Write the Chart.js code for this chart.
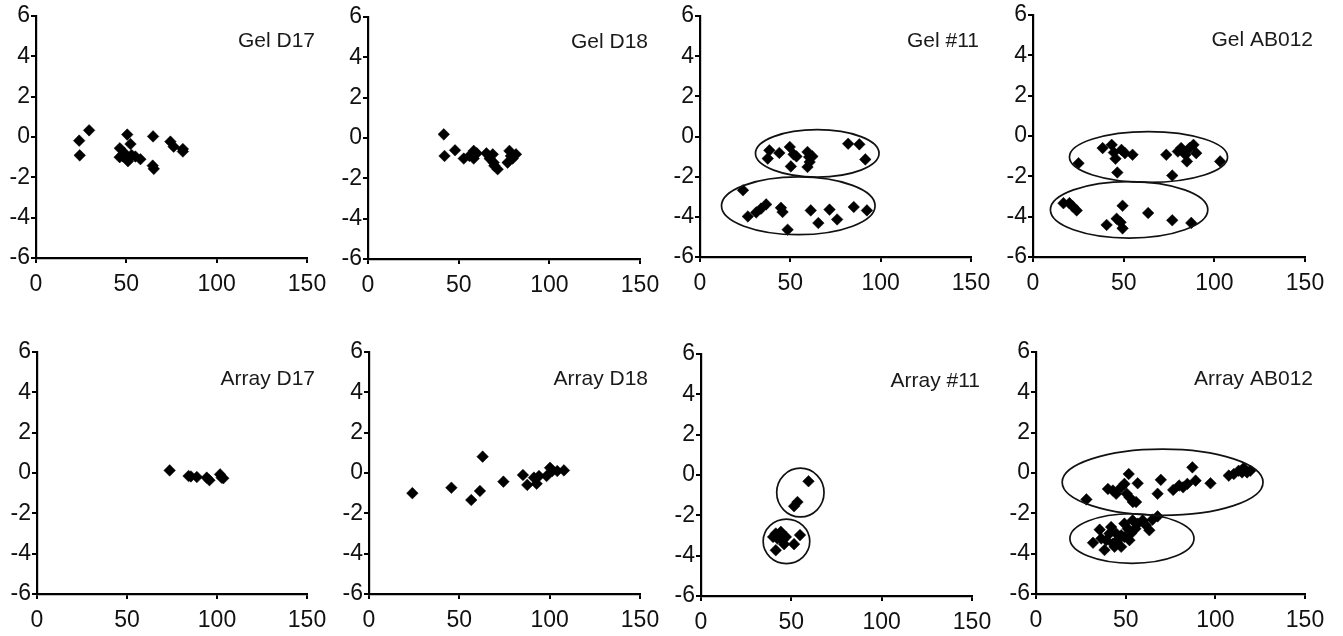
<!DOCTYPE html>
<html>
<head>
<meta charset="utf-8">
<script src="https://cdn.jsdelivr.net/npm/chart.js@4.4.1/dist/chart.umd.min.js"></script>
<style>
  html, body { margin:0; padding:0; background:#fff; width:1343px; height:636px; overflow:hidden; position:relative; }
  .panel { position:absolute; }
  .panel canvas { display:block; }
</style>
</head>
<body>
<script>
// ---------- data ----------
const xTicks = [0, 50, 100, 150];
const yTicks = [-6, -4, -2, 0, 2, 4, 6];

const titles = ["Gel D17", "Gel D18", "Gel #11", "Gel AB012",
                "Array D17", "Array D18", "Array #11", "Array AB012"];

const gelD17 = [[23.9,-0.18],[24.2,-0.91],[29.4,0.33],[50.5,0.12],[46.4,-0.56],[46.3,-1.0],
  [49,-0.8],[50.9,-1.2],[52.3,-0.35],[52.9,-0.89],[55,-0.97],[57.8,-1.1],[48,-0.95],
  [64.8,0.03],[64.6,-1.42],[65.2,-1.58],[74.4,-0.23],[76.2,-0.48],[81.3,-0.6],[81.3,-0.72]];

const gelD18 = [[41.8,0.18],[42.2,-0.89],[48,-0.61],[52.8,-1.02],[55.9,-0.89],[58.3,-0.64],
  [58.3,-1.02],[60,-0.76],[65.3,-0.76],[67.1,-1.02],[68.8,-0.81],[69.3,-1.22],[71.5,-1.55],
  [69.7,-1.38],[77,-1.22],[78,-0.64],[78.8,-0.89],[81.6,-0.81],[79.8,-1.02]];

const gel11 = [[37.5,-1.1],[38.4,-0.69],[43.9,-0.82],[49.7,-0.52],[50.3,-1.49],[51.8,-0.89],
  [53.4,-0.99],[59.5,-0.77],[60.4,-1.02],[59.5,-1.52],[62.2,-0.99],[60.7,-1.27],[82,-0.36],
  [88.2,-0.39],[91.5,-1.14],
  [23.8,-2.68],[26.5,-3.98],[31.1,-3.78],[33.8,-3.59],[36.6,-3.38],[44.8,-3.55],[45.7,-3.76],
  [48.5,-4.64],[61.3,-3.68],[65.5,-4.31],[71.7,-3.64],[75.9,-4.13],[85.1,-3.51],[92.4,-3.68]];

const gelAB012 = [[25.1,-1.35],[38.4,-0.6],[43.4,-0.44],[44.6,-0.82],[45.5,-1.13],[48.8,-0.69],
  [50.7,-0.85],[54.9,-0.93],[46.5,-1.81],[73.5,-0.93],[76.8,-1.96],[79.9,-0.77],[81.7,-0.6],
  [84.1,-0.93],[84.9,-1.26],[86.3,-0.6],[88.5,-0.44],[90,-0.85],[103.2,-1.26],
  [16.8,-3.33],[20.1,-3.33],[21.9,-3.49],[24.1,-3.69],[40.6,-4.41],[46.1,-4.1],[48.3,-4.28],
  [49.4,-4.58],[49.4,-3.46],[63.5,-3.82],[76.8,-4.18],[87.3,-4.31]];

const arrD17 = [[73.7,0.13],[84.2,-0.15],[85.5,-0.17],[88.8,-0.2],[94.3,-0.23],[95.8,-0.36],
  [101.7,-0.07],[102.6,-0.23],[103.5,-0.26]];

const arrD18 = [[24,-1.0],[45.6,-0.73],[56.6,-1.34],[61.4,-0.89],[62.9,0.81],[74.4,-0.43],
  [85.2,-0.1],[87.6,-0.59],[91.3,-0.23],[92.8,-0.53],[94.1,-0.15],[98.3,-0.15],[100.2,0.26],
  [101.5,0.1],[104.2,0.1],[107.9,0.13]];

const arr11 = [[59.5,-0.31],[53.4,-1.34],[51.5,-1.55],[41.4,-2.9],[44.2,-2.82],[42.3,-3.15],
  [45.1,-3.23],[46,-3.43],[41.4,-3.73],[51.5,-3.43],[54.8,-2.98],[47,-3.07],[39.9,-3.07]];

const arrAB012 = [[28.1,-1.31],[40.1,-0.79],[42.9,-0.87],[44.7,-1.03],[47.5,-0.71],[49.3,-0.54],
  [51.7,-0.05],[52.1,-1.2],[54,-1.44],[55.8,-1.44],[56.7,-0.51],[50.6,-1.03],[69.6,-0.34],
  [67.8,-1.03],[76.5,-0.84],[79.8,-0.62],[82,-0.71],[84.4,-0.54],[87.2,0.28],[89,-0.38],
  [97.3,-0.51],[107.5,-0.13],[110.3,-0.05],[113,0.11],[114.9,0.03],[117.7,0.03],[119.5,0.11],
  [115.8,0.25],
  [31.8,-3.46],[35.5,-2.81],[36.4,-3.25],[38.2,-3.82],[39.2,-3.33],[41,-3.0],[42.9,-3.5],
  [44.7,-3.0],[45.6,-3.33],[47.5,-3.66],[49.3,-2.51],[49.3,-3.17],[51.2,-2.76],[52.1,-3.33],
  [53,-3.0],[53.9,-2.35],[55.4,-2.76],[56.7,-2.51],[59.5,-2.35],[61.3,-2.59],[63.2,-2.84],
  [65,-2.31],[67.8,-2.15],[47.5,-3.09],[41.9,-2.68],[43.8,-3.66]];

// ellipses: [centerX, centerY, radiusX, radiusY] in data units
const gel11Ellipses = [[64.9,-0.84,34.2,1.18],[54.4,-3.45,42.5,1.44]];
const gelAB012Ellipses = [[63.7,-1.04,43.6,1.26],[53,-3.66,43.4,1.4]];
const arr11Ellipses = [[55,-0.87,13.1,1.21],[47.3,-3.29,12.9,1.1]];
const arrAB012Ellipses = [[70.6,-0.46,56,1.64],[53.5,-3.25,34.6,1.23]];

const panelData = [gelD17, gelD18, gel11, gelAB012, arrD17, arrD18, arr11, arrAB012];
const panelEllipses = [[], [], gel11Ellipses, gelAB012Ellipses, [], [], arr11Ellipses, arrAB012Ellipses];

// ---------- layout (pixel positions of each plot area) ----------
const layoutBoxes = [
  {ax:36,  x150:307,  y6:16,  yb:258},
  {ax:368, x150:640,  y6:17,  yb:259},
  {ax:700, x150:971,  y6:16,  yb:257},
  {ax:1033,x150:1305, y6:15,  yb:257},
  {ax:37,  x150:307,  y6:352, yb:594},
  {ax:369, x150:640,  y6:352, yb:594},
  {ax:701, x150:972,  y6:354, yb:596},
  {ax:1036,x150:1305, y6:352, yb:594}
];
const L = 44, T = 16, R = 36, B = 46;
const FONT = "'Liberation Sans', Arial, Helvetica, sans-serif";

function ellipsePlugin(items) {
  return {
    id: 'ellipses',
    afterDatasetsDraw(chart) {
      const ctx = chart.ctx, xs = chart.scales.x, ys = chart.scales.y;
      ctx.save();
      ctx.lineWidth = 1.7;
      ctx.strokeStyle = '#111';
      for (const [cx, cy, rx, ry] of items) {
        const px = xs.getPixelForValue(cx), py = ys.getPixelForValue(cy);
        const prx = Math.abs(xs.getPixelForValue(cx + rx) - px);
        const pry = Math.abs(ys.getPixelForValue(cy + ry) - py);
        ctx.beginPath();
        ctx.ellipse(px, py, prx, pry, 0, 0, Math.PI * 2);
        ctx.stroke();
      }
      ctx.restore();
    }
  };
}

function titlePlugin(text, dy) {
  return {
    id: 'panelTitle',
    afterDraw(chart) {
      const ctx = chart.ctx, a = chart.chartArea;
      ctx.save();
      ctx.font = "21px " + FONT;
      ctx.fillStyle = '#1a1a1a';
      ctx.textAlign = 'right';
      ctx.textBaseline = 'middle';
      ctx.fillText(text, a.right + 8, a.top + dy);
      ctx.restore();
    }
  };
}

layoutBoxes.forEach((bx, i) => {
  const W = bx.x150 - bx.ax, H = bx.yb - bx.y6;
  const div = document.createElement('div');
  div.className = 'panel';
  div.style.left = (bx.ax - L) + 'px';
  div.style.top = (bx.y6 - T) + 'px';
  const cw = L + W + R, ch = T + H + B;
  div.style.width = cw + 'px';
  div.style.height = ch + 'px';
  const cv = document.createElement('canvas');
  cv.width = cw; cv.height = ch;
  cv.style.width = cw + 'px'; cv.style.height = ch + 'px';
  div.appendChild(cv);
  document.body.appendChild(div);

  new Chart(cv, {
    type: 'scatter',
    data: {
      datasets: [{
        data: panelData[i].map(p => ({x: p[0], y: p[1]})),
        pointStyle: 'rectRot',
        pointRadius: 5.8,
        pointBackgroundColor: '#000',
        pointBorderColor: '#000',
        pointBorderWidth: 0.5,
        clip: false
      }]
    },
    options: {
      responsive: false,
      animation: false,
      devicePixelRatio: 1,
      layout: { padding: { top: T, right: R, left: 0, bottom: 0 } },
      plugins: { legend: { display: false }, tooltip: { enabled: false } },
      scales: {
        x: {
          type: 'linear', min: 0, max: 150,
          afterBuildTicks: s => { s.ticks = xTicks.map(v => ({value: v})); },
          afterFit: s => { s.height = B; },
          ticks: { color: '#111', font: { family: FONT, size: 23 }, padding: 8, maxRotation: 0, autoSkip: false },
          grid: { drawOnChartArea: false, color: '#000', lineWidth: 2, tickLength: 5 },
          border: { color: '#000', width: 2.2 }
        },
        y: {
          type: 'linear', min: -6, max: 6,
          afterBuildTicks: s => { s.ticks = yTicks.map(v => ({value: v})); },
          afterFit: s => { s.width = L; },
          ticks: { color: '#111', font: { family: FONT, size: 23 }, padding: 1, autoSkip: false },
          grid: { drawOnChartArea: false, color: '#000', lineWidth: 2, tickLength: 5 },
          border: { color: '#000', width: 2.2 }
        }
      }
    },
    plugins: [ellipsePlugin(panelEllipses[i]), titlePlugin(titles[i], i < 4 ? 25 : 27)]
  });
});
</script>
</body>
</html>
